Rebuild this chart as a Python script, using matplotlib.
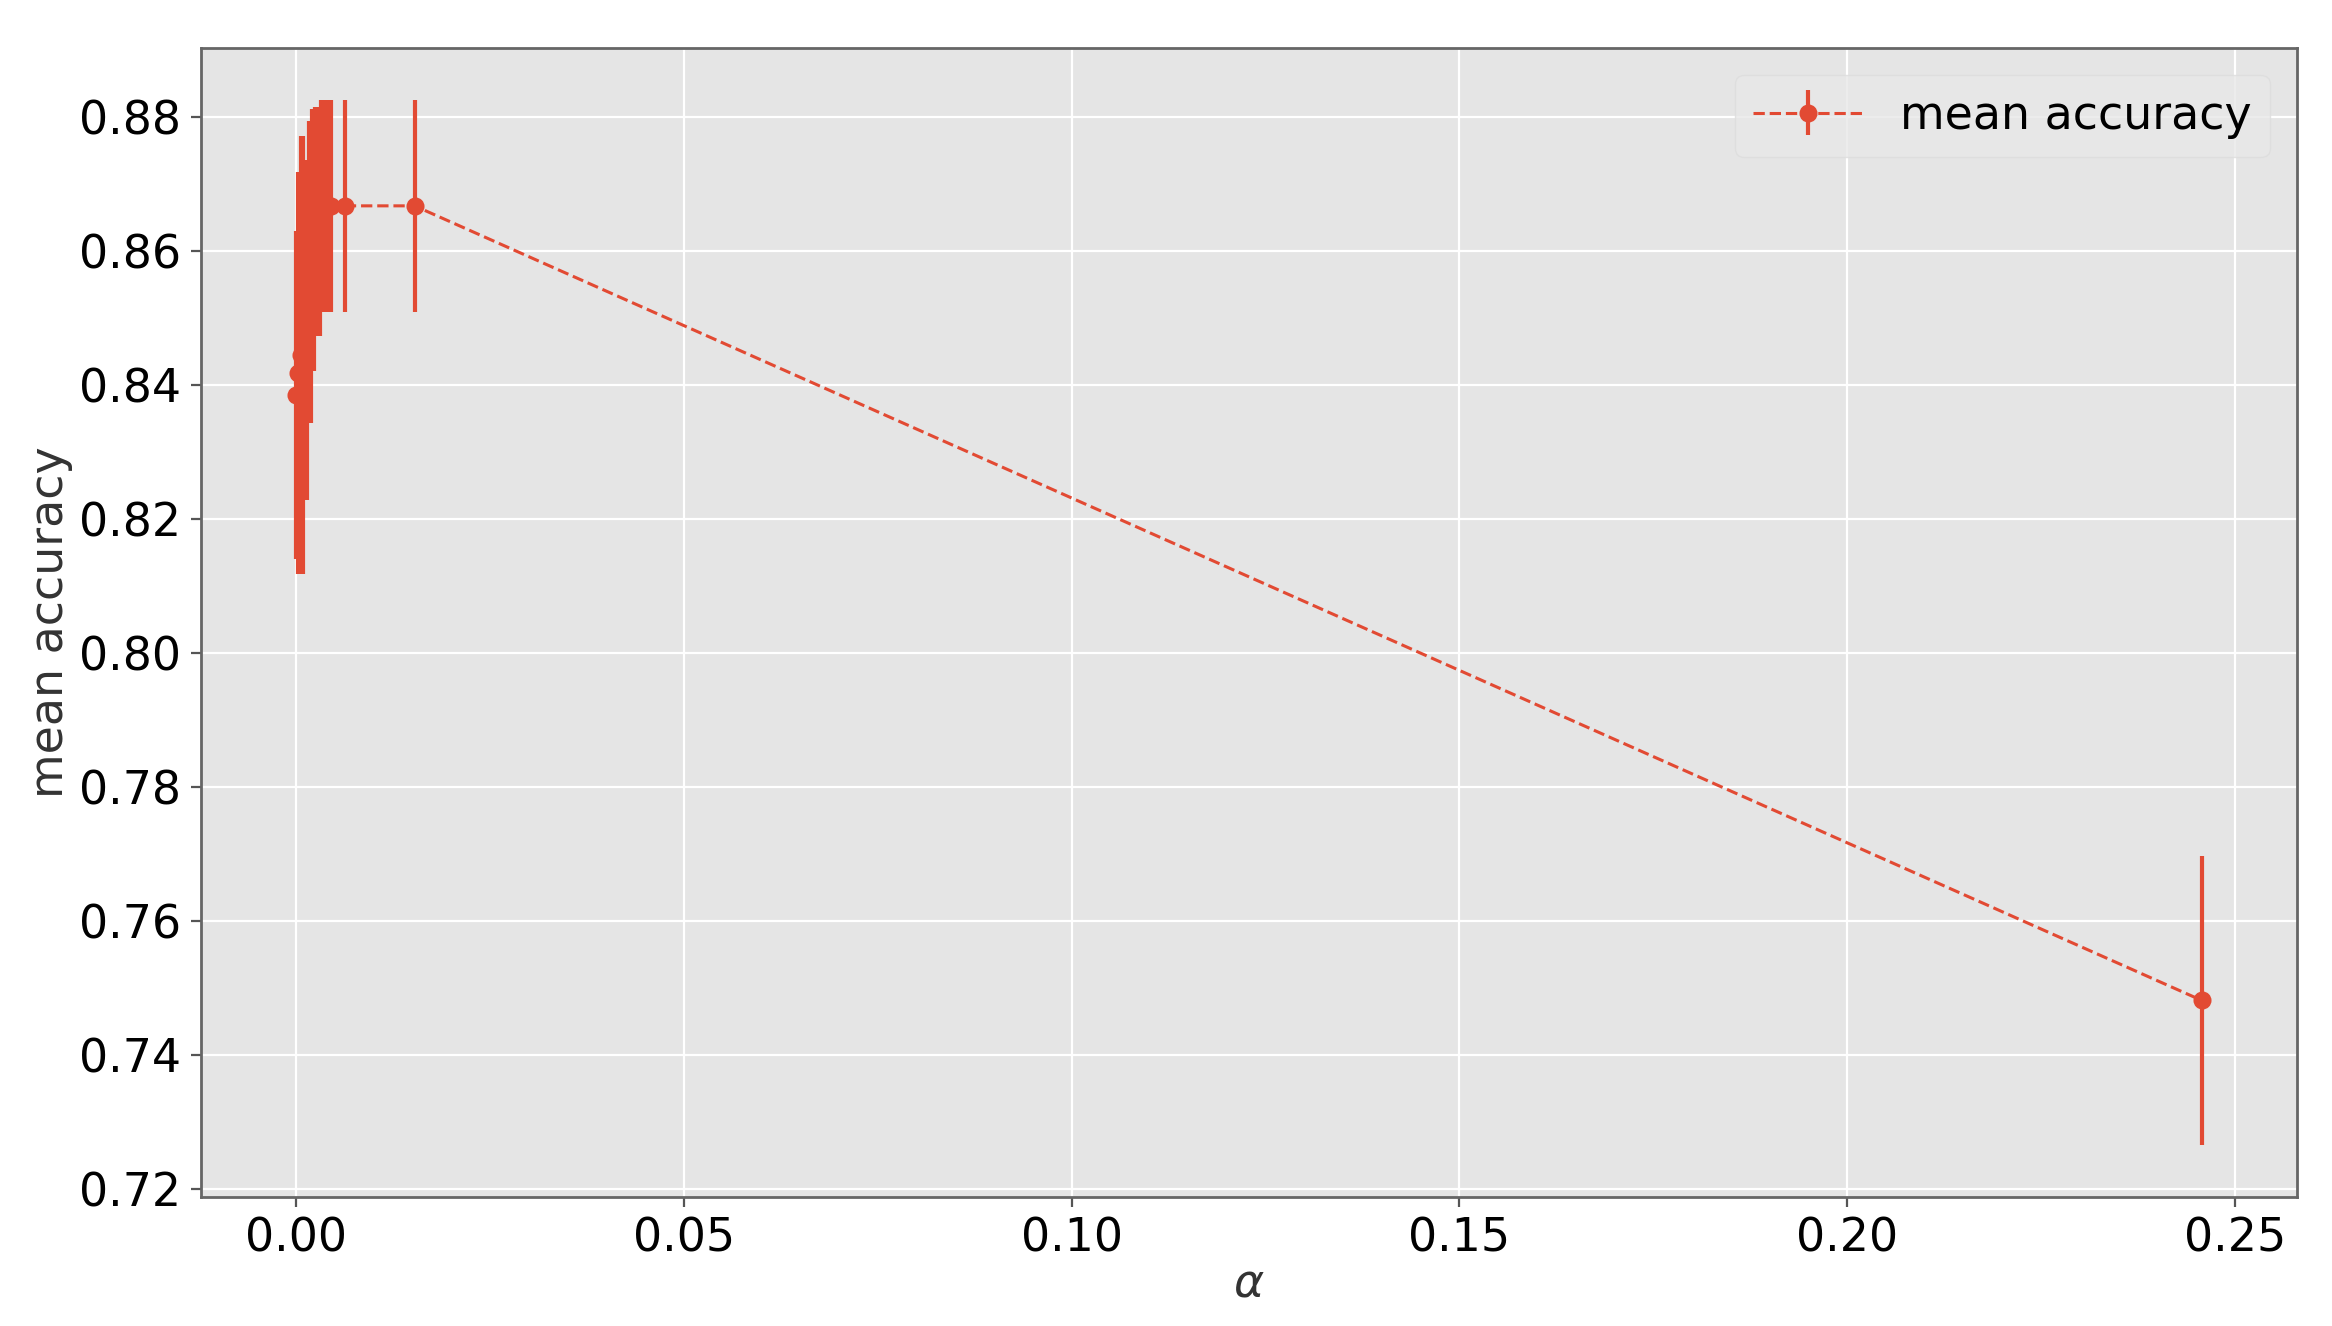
import numpy as np
import matplotlib
matplotlib.use("Agg")
import matplotlib.pyplot as plt

plt.style.use("ggplot")

# cost-complexity alphas with cross-validated accuracy
ccp_alphas = [0.0, 0.0003, 0.0005, 0.0007, 0.0009, 0.0011, 0.0013, 0.0015,
              0.0017, 0.0019, 0.0021, 0.0023, 0.0025, 0.0027, 0.0029, 0.0031,
              0.0033, 0.0035, 0.0037, 0.0039, 0.0041, 0.0043, 0.0045,
              0.0064, 0.0153, 0.2457]
mean_acc = [0.8385, 0.8418, 0.8418, 0.8445, 0.8445, 0.8482, 0.8482, 0.8482,
            0.8568, 0.8568, 0.8616, 0.8616, 0.8643, 0.8643, 0.8643, 0.8643,
            0.8667, 0.8667, 0.8667, 0.8667, 0.8667, 0.8667, 0.8667,
            0.8667, 0.8667, 0.7481]
std_acc = [0.0245, 0.0300, 0.0300, 0.0327, 0.0327, 0.0254, 0.0254, 0.0254,
           0.0225, 0.0225, 0.0196, 0.0196, 0.0171, 0.0171, 0.0171, 0.0171,
           0.0158, 0.0158, 0.0158, 0.0158, 0.0158, 0.0158, 0.0158,
           0.0158, 0.0158, 0.0216]

fig = plt.figure(figsize=(11.66, 6.63), dpi=200)
ax = fig.add_axes([0.086, 0.097, 0.899, 0.867])

ax.errorbar(ccp_alphas, mean_acc, yerr=std_acc, marker="o", ms=5.5,
            linestyle="--", lw=1.1, elinewidth=1.5, color="#E24A33",
            label="mean accuracy")

ax.set_xlabel(r"$\alpha$", fontsize=16.5, color="#333333", labelpad=0)
ax.set_ylabel("mean accuracy", fontsize=16.5, color="#333333", labelpad=2)
ax.tick_params(labelsize=16.5, labelcolor="black", color="#555555")
ax.set_yticks(np.arange(0.72, 0.881, 0.02))

for s in ax.spines.values():
    s.set_visible(True)
    s.set_color("#666666")
    s.set_linewidth(1.0)

leg = ax.legend(loc="upper right", fontsize=16.5, handlelength=2.4,
                borderaxespad=0.6)
leg.get_frame().set_facecolor("#E8E8E8")
leg.get_frame().set_edgecolor("#DDDDDD")

plt.savefig("out.png", dpi=200)
